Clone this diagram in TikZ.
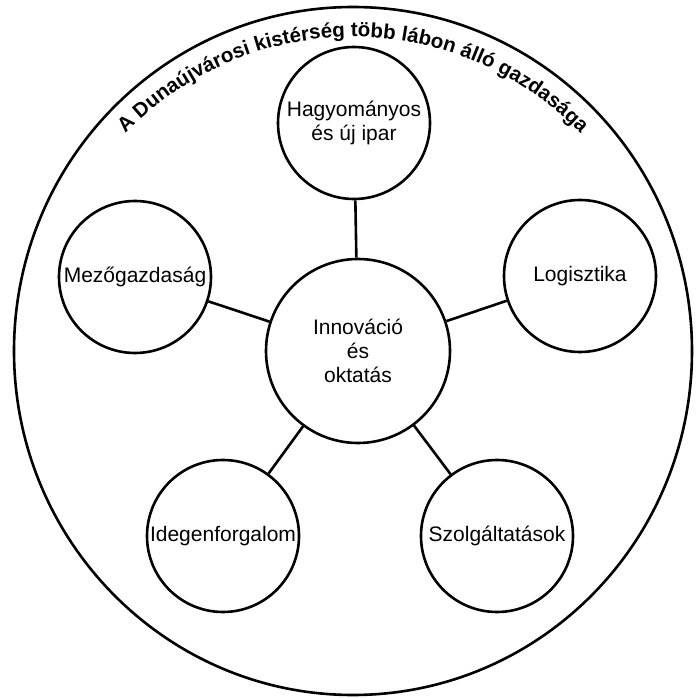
\documentclass[tikz,border=0pt]{standalone}
\usepackage{fontspec}
\setmainfont{Liberation Sans}
\usetikzlibrary{decorations.text}
\begin{document}
\begin{tikzpicture}[x=0.5pt, y=0.5pt, line width=1.3pt,
		kor/.style={circle, draw, inner sep=0pt, align=center, minimum size=76pt, font=\fontsize{10.5}{12}\selectfont}]
			\useasboundingbox (0,0) rectangle (696,698);
			\draw (353,347) ellipse [x radius=339, y radius=344];
			\path[decorate, decoration={text along path, text align=center,
				text={|\bfseries\fontsize{10.25}{12}\selectfont|A Dunaújvárosi kistérség több lábon álló gazdasága}}]
				(353,345) ++(137:316) arc[start angle=137, end angle=43, radius=316];
			\node[kor, minimum size=92pt] (P_0) at (358,347) {Innováció\\és\\oktatás};
			\node[kor] (P_1) at (354,575) {Hagyományos\\és új ipar};
			\draw (P_0) -- (P_1);
			\node[kor] (P_2) at (135,421) {Mezőgazdaság};
			\draw (P_0) -- (P_2);
			\node[kor] (P_3) at (580,422) {Logisztika};
			\draw (P_0) -- (P_3);
			\node[kor] (P_4) at (223,162) {Idegenforgalom};
			\draw (P_0) -- (P_4);
			\node[kor] (P_5) at (497,162) {Szolgáltatások};
			\draw (P_0) -- (P_5);
		\end{tikzpicture}
\end{document}
